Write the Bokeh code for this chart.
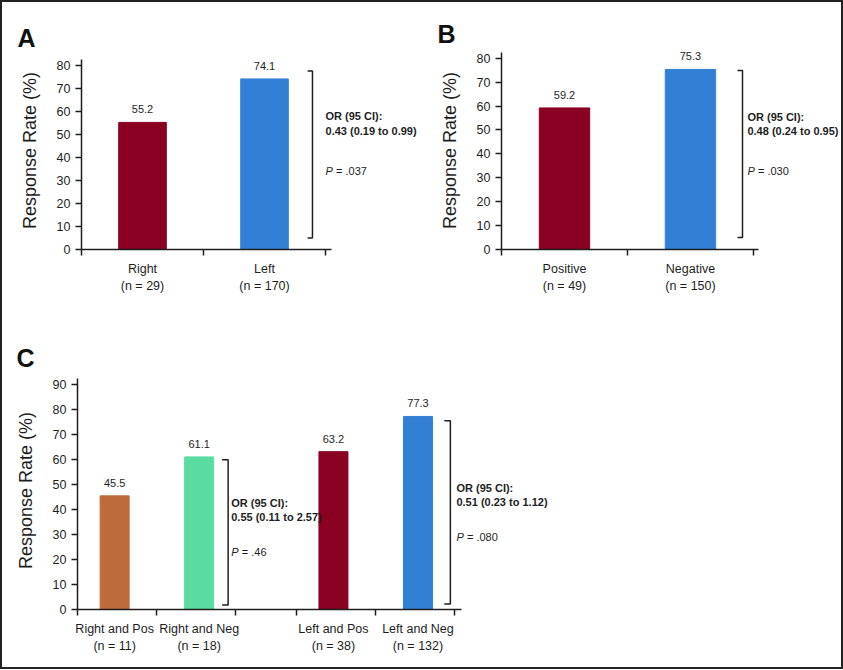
from bokeh.plotting import figure
from bokeh.models import ColumnDataSource, Range1d, FixedTicker, Label, LabelSet, Column, Row
from bokeh.core.properties import value
from bokeh.embed import file_html
from bokeh.resources import INLINE

FONT = "Liberation Sans"
INK = "#1e1e1e"

# ---------------- data ----------------
a_categories = ["Right\n(n = 29)", "Left\n(n = 170)"]
a_values = [55.2, 74.1]
a_colors = ["#8a0023", "#3280d6"]
a_or = "0.43 (0.19 to 0.99)"
a_p = ".037"

b_categories = ["Positive\n(n = 49)", "Negative\n(n = 150)"]
b_values = [59.2, 75.3]
b_colors = ["#8a0023", "#3280d6"]
b_or = "0.48 (0.24 to 0.95)"
b_p = ".030"

c_categories = ["Right and Pos\n(n = 11)", "Right and Neg\n(n = 18)",
                "Left and Pos\n(n = 38)", "Left and Neg\n(n = 132)"]
c_values = [45.5, 61.1, 63.2, 77.3]
c_colors = ["#bf6a3b", "#5adb9f", "#8a0023", "#3280d6"]
c_or = ["0.55 (0.11 to 2.57)", "0.51 (0.23 to 1.12)"]
c_p = [".46", ".080"]

ticks_ab = [0, 10, 20, 30, 40, 50, 60, 70, 80]
ticks_c = [0, 10, 20, 30, 40, 50, 60, 70, 80, 90]


def make_panel(letter, title_off, title_standoff, width, height, mb, xend,
               xaxis_end, yend, yaxis_end, yticks, centers, bounds, cats,
               vals, cols, bar_w):
    p = figure(width=width, height=height, x_range=Range1d(0, xend),
               y_range=Range1d(0, yend), output_backend="svg",
               toolbar_location=None, min_border_left=mb[0],
               min_border_right=mb[1], min_border_top=mb[2],
               min_border_bottom=mb[3])
    p.outline_line_color = None
    p.xgrid.grid_line_color = None
    p.ygrid.grid_line_color = None
    p.background_fill_color = "white"
    p.border_fill_color = "white"

    p.title.text = letter
    p.title.align = "left"
    p.title.offset = title_off
    p.title.standoff = title_standoff
    p.title.text_font = FONT
    p.title.text_font_size = "25px"
    p.title.text_font_style = "bold"
    p.title.text_color = "#111111"

    src = ColumnDataSource(dict(x=centers, top=vals, color=cols,
                                label=["%.1f" % v for v in vals]))
    p.vbar(x="x", top="top", bottom=0, width=bar_w, fill_color="color",
           line_color="color", source=src)
    p.add_layout(LabelSet(x="x", y="top", text="label", source=src,
                          text_align="center", text_baseline="alphabetic",
                          y_offset=9, text_font_size=value("11px"),
                          text_font=value(FONT), text_color=INK))

    xa = p.xaxis[0]
    xa.bounds = (0, xaxis_end)
    xa.ticker = FixedTicker(ticks=list(centers), minor_ticks=list(bounds))
    xa.major_label_overrides = {c: t for c, t in zip(centers, cats)}
    xa.major_tick_line_color = None
    xa.major_tick_in = 0
    xa.major_tick_out = 0
    xa.minor_tick_in = 0
    xa.minor_tick_out = 6
    xa.minor_tick_line_color = INK
    xa.minor_tick_line_width = 1.5
    xa.axis_line_color = INK
    xa.axis_line_width = 1.5
    xa.major_label_standoff = 6
    xa.major_label_text_font = FONT
    xa.major_label_text_font_size = "12.5px"
    xa.major_label_text_color = INK
    xa.major_label_text_line_height = 1.25

    ya = p.yaxis[0]
    ya.bounds = (0, yaxis_end)
    ya.ticker = FixedTicker(ticks=yticks, minor_ticks=[])
    ya.major_tick_in = 0
    ya.major_tick_out = 6
    ya.major_tick_line_color = INK
    ya.major_tick_line_width = 1.5
    ya.minor_tick_line_color = None
    ya.axis_line_color = INK
    ya.axis_line_width = 1.5
    ya.major_label_standoff = 5
    ya.major_label_text_font = FONT
    ya.major_label_text_font_size = "12.5px"
    ya.major_label_text_color = INK
    ya.axis_label = "Response Rate (%)"
    ya.axis_label_text_font = FONT
    ya.axis_label_text_font_style = "normal"
    ya.axis_label_text_font_size = "18px"
    ya.axis_label_text_color = INK
    ya.axis_label_standoff = 14
    return p


def bracket(p, xb, lo, hi, d):
    p.multi_line(xs=[[xb - d, xb, xb, xb - d]], ys=[[lo, lo, hi, hi]],
                 line_color=INK, line_width=1.5)


def stats(p, x, y_or, y_ci, y_p, ci_text, p_text):
    common = dict(text_font=FONT, text_font_size="11px",
                  text_baseline="middle", text_color=INK)
    p.add_layout(Label(x=x, y=y_or, text="OR (95 CI):",
                       text_font_style="bold", **common))
    p.add_layout(Label(x=x, y=y_ci, text=ci_text,
                       text_font_style="bold", **common))
    p.add_layout(Label(x=x, y=y_p, text="P", text_font_style="italic",
                       **common))
    p.add_layout(Label(x=x, y=y_p, x_offset=10.5, text="= " + p_text,
                       **common))


# ---------------- panel A ----------------
a_centers = [0.5, 1.5]
pA = make_panel("A", -64, 0, 418, 298, (79, 2, 49, 51), 2.762, 2.05, 86, 82.5,
                ticks_ab, a_centers, [0, 1, 2], a_categories, a_values,
                a_colors, 0.39)
bracket(pA, 1.893, 5.0, 77.5, 0.04)
stats(pA, 2.0, 57.8, 51.3, 34.3, a_or, a_p)

# ---------------- panel B ----------------
b_centers = [0.5, 1.5]
pB = make_panel("B", -64, 8, 421, 298, (81, 2, 49, 51), 2.683, 2.04, 82.8, 82.5,
                ticks_ab, b_centers, [0, 1, 2], b_categories, b_values,
                b_colors, 0.40)
bracket(pB, 1.913, 5.0, 74.9, 0.04)
stats(pB, 1.952, 55.3, 49.4, 33.0, b_or, b_p)

# ---------------- panel C ----------------
group_gap = 2.77
c_centers = []
c_bounds = []
for g in range(2):
    off = g * group_gap
    c_centers += [off + 0.47, off + 1.54]
    c_bounds += [off + 0, off + 1, off + 2]
pC = make_panel("C", -61, 0, 839, 367, (75, 2, 71, 58), 9.646, 4.86, 95.3, 92.4,
                ticks_c, c_centers, c_bounds, c_categories, c_values,
                c_colors, 0.367)
bracket(pC, 1.907, 1.8, 60.0, 0.076)
bracket(pC, group_gap + 1.95, 2.2, 75.6, 0.076)
stats(pC, 1.946, 42.5, 37.1, 23.2, c_or[0], c_p[0])
stats(pC, group_gap + 2.027, 48.5, 43.1, 29.1, c_or[1], c_p[1])

layout = Column(children=[Row(children=[pA, pB], spacing=0), pC], spacing=0,
                styles={"border": "2px solid #222222", "background-color": "white"})

open("out.html", "w").write(file_html(layout, INLINE))
